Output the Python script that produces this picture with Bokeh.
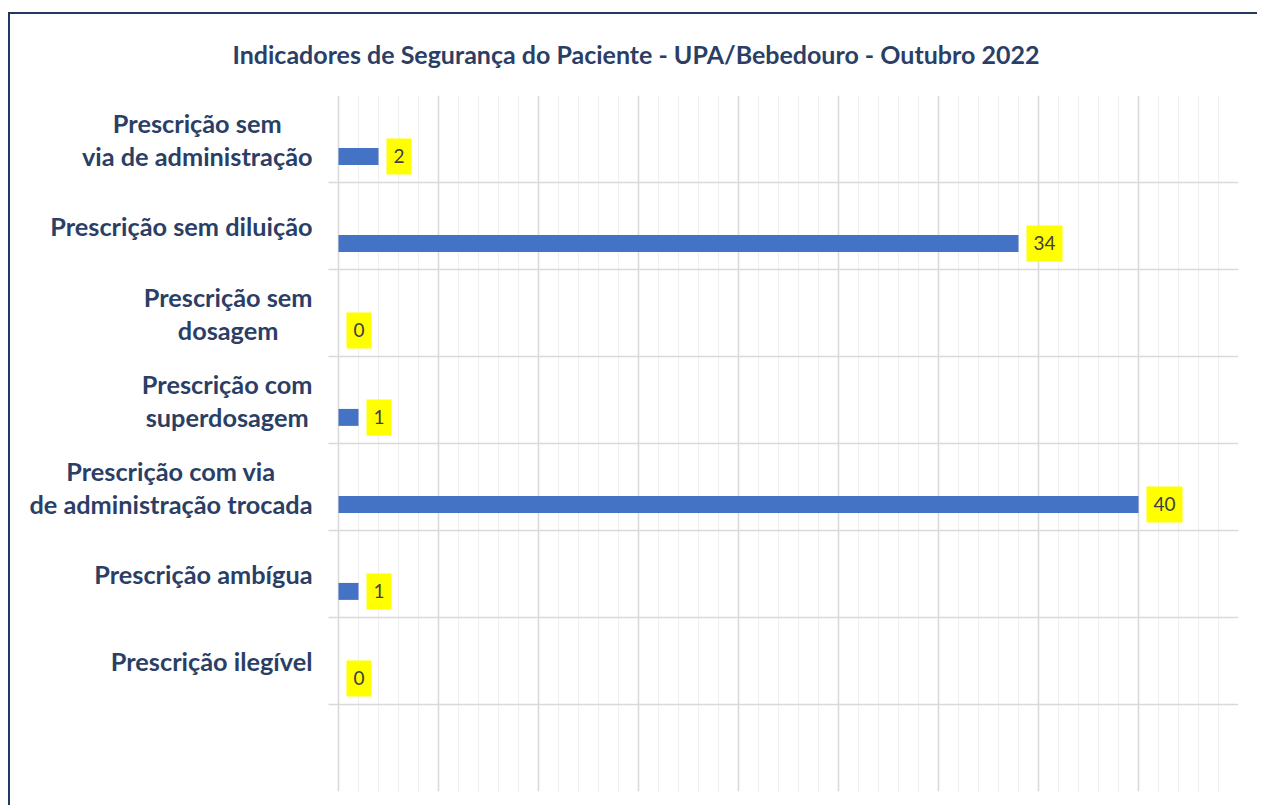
from bokeh.plotting import figure
from bokeh.models import ColumnDataSource, FixedTicker, SingleIntervalTicker, Range1d
from bokeh.core.properties import value
from bokeh.embed import file_html
from bokeh.resources import INLINE

# ---- data ----
categories = [
    "Prescrição sem\nvia de administração",
    "Prescrição sem diluição",
    "Prescrição sem\ndosagem",
    "Prescrição com\nsuperdosagem",
    "Prescrição com via\nde administração trocada",
    "Prescrição ambígua",
    "Prescrição ilegível",
]
values = [2, 34, 0, 1, 40, 1, 0]
title_text = "Indicadores de Segurança do Paciente - UPA/Bebedouro - Outubro 2022"
x_max = 45

# ---- layout constants ----
label_room = 16.4          # room (in value units) left of zero for the category texts
n_bands = len(categories) + 1
centers = [n_bands - i - 0.5 for i in range(len(categories))]
bar_y = [c - 0.2 for c in centers]

src = ColumnDataSource(dict(y=bar_y, v=values, lbl=[str(v) for v in values]))
cat_src = ColumnDataSource(dict(y=centers, name=categories, x=[0] * len(categories)))

NAVY = "#1F3864"
TXT = "#2B3F66"
FONT = "Lato"

p = figure(width=1249, height=793, output_backend="svg", toolbar_location=None,
           x_range=Range1d(-label_room, x_max), y_range=Range1d(0, n_bands),
           min_border_left=0, min_border_right=21, min_border_top=81, min_border_bottom=16)
p.outline_line_color = None
p.background_fill_color = "white"
p.border_fill_color = "white"

p.title.text = title_text
p.title.align = "left"
p.title.vertical_align = "top"
p.title.offset = 222
p.title.standoff = 49
p.title.text_font = FONT
p.title.text_font_size = "25px"
p.title.text_font_style = "bold"
p.title.text_color = TXT

# grid: vertical lines only over the value area, horizontal band separators
p.xaxis.visible = False
p.yaxis.visible = False
p.xgrid.ticker = SingleIntervalTicker(interval=5, num_minor_ticks=5)
p.xgrid.bounds = (0, x_max)
p.xgrid.grid_line_color = "#D9D9D9"
p.xgrid.grid_line_width = 1.5
p.xgrid.minor_grid_line_color = "#EFEFEF"
p.xgrid.minor_grid_line_width = 1.2
p.ygrid.ticker = FixedTicker(ticks=list(range(0, n_bands + 1)))
p.ygrid.cross_bounds = (-0.5, x_max)
p.ygrid.grid_line_color = "#D9D9D9"
p.ygrid.grid_line_width = 1.5

p.hbar(y="y", left=0, right="v", height=0.195, source=src,
       fill_color="#4472C4", line_color=None)

p.text(x="v", y="y", text="lbl", source=src, x_offset=8,
       text_baseline="middle", text_align="left",
       text_font=value(FONT), text_font_size="19px", text_color="#404040",
       background_fill_color="#FFFF00",
       padding=dict(left=7, right=7, top=11, bottom=11))

# category names: block right-aligned next to the axis, lines centred
p.text(x="x", y="y", text="name", source=cat_src, x_offset=-26,
       anchor="center_right", text_align="center", text_baseline="middle",
       text_font=value(FONT), text_font_size="25.3px", text_font_style="bold",
       text_color=TXT, text_line_height=1.1)

p.styles = {"border-top": f"2px solid {NAVY}", "border-left": f"2px solid {NAVY}",
            "margin-top": "12px", "margin-left": "8px"}

open("out.html", "w").write(file_html(p, INLINE))
